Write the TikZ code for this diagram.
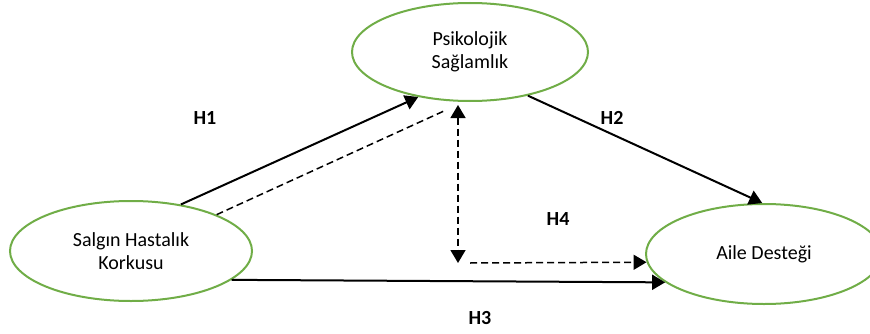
\documentclass[tikz,border=0pt]{standalone}
\usepackage{fontspec}
\setmainfont{Carlito}
\usepackage{xcolor}
\usetikzlibrary{shapes.geometric, arrows.meta}

\definecolor{ovalgreen}{HTML}{70AD47}

\begin{document}
\begin{tikzpicture}[x=1pt, y=1pt,
  >={Triangle[width=15pt,length=13pt]},
  var/.style={ellipse, draw=ovalgreen, line width=2pt, inner sep=0pt,
    minimum width=236pt, minimum height=98pt, align=center,
    font=\fontsize{20}{23}\selectfont},
  hyp/.style={line width=2pt, ->},
  medline/.style={line width=1.5pt, dash pattern=on 7pt off 4pt},
  hlabel/.style={font=\fontsize{20}{24}\selectfont\bfseries}]
\useasboundingbox (0,0) rectangle (870,333);

% constructs
\node[var] (ps) at (470,281) {Psikolojik\\Sağlamlık};
\node[var, minimum width=242pt, minimum height=100pt] (shk) at (131,82) {Salgın Hastalık\\Korkusu};
\node[var, minimum height=100pt] (ad) at (764,79) {Aile Desteği};

% direct paths
\draw[hyp] (shk.43) -- (ps.221);
\draw[hyp] (ps.323) -- (ad.92);
\draw[hyp] (shk.344) -- (ad.196);

% mediation
\coordinate (corner) at (458,70);
\draw[medline, shorten >=19pt] (shk.23) -- (ps.263);
\draw[medline, <->, shorten <=3pt] (corner |- ps.south) -- (corner);
\draw[medline, ->] ([xshift=12pt]corner) -- (ad.184);

% hypotheses
\node[hlabel] (h1) at (205,215) {H1};
\node[hlabel] (h2) at (612,215) {H2};
\node[hlabel] (h3) at (480,15) {H3};
\node[hlabel] (h4) at (558,114) {H4};
\end{tikzpicture}
\end{document}
